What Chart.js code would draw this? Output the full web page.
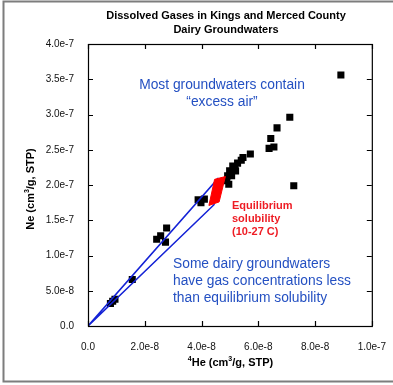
<!DOCTYPE html>
<html>
<head>
<meta charset="utf-8">
<title>Dissolved Gases in Kings and Merced County Dairy Groundwaters</title>
<script src="https://cdn.jsdelivr.net/npm/chart.js@4.4.1/dist/chart.umd.min.js"></script>
<style>
  html, body { margin: 0; padding: 0; background: #fff; }
  canvas { display: block; }
</style>
</head>
<body>
<canvas id="gasChart" width="393" height="385"></canvas>
<script>
// Dairy well samples, 4He and Ne in cm3/g STP
const sampleHe = [8.91e-8, 7.11e-8, 6.66e-8, 6.44e-8, 6.55e-8, 6.38e-8, 5.72e-8, 7.25e-8, 5.40e-8,
                  5.46e-8, 5.27e-8, 5.17e-8, 5.10e-8, 5.20e-8, 4.99e-8, 5.06e-8, 4.92e-8, 4.89e-8, 4.96e-8,
                  3.88e-8, 4.10e-8, 3.98e-8, 2.77e-8, 2.56e-8, 2.42e-8, 2.73e-8, 1.56e-8, 0.79e-8, 0.87e-8, 0.95e-8];
const sampleNe = [3.56e-7, 2.96e-7, 2.81e-7, 2.66e-7, 2.54e-7, 2.52e-7, 2.44e-7, 1.99e-7, 2.35e-7,
                  2.39e-7, 2.31e-7, 2.25e-7, 2.27e-7, 2.20e-7, 2.20e-7, 2.13e-7, 2.13e-7, 2.06e-7, 2.01e-7,
                  1.79e-7, 1.80e-7, 1.75e-7, 1.39e-7, 1.28e-7, 1.23e-7, 1.19e-7, 0.66e-7, 0.32e-7, 0.35e-7, 0.38e-7];

// Equilibrium solubility band (10-27 C)
const equilHe = [4.46e-8, 4.84e-8, 4.62e-8, 4.26e-8, 4.46e-8];
const equilNe = [2.08e-7, 2.12e-7, 1.76e-7, 1.71e-7, 2.08e-7];

// Lines from the origin out to both ends of the equilibrium band
const envelopeHe = [0, 4.55e-8, 4.44e-8, 0];
const envelopeNe = [0, 2.08e-7, 1.72e-7, 0];

// Axis ticks
const heTickValues = [0, 2.0e-8, 4.0e-8, 6.0e-8, 8.0e-8, 1.0e-7];
const neTickValues = [0, 5.0e-8, 1.0e-7, 1.5e-7, 2.0e-7, 2.5e-7, 3.0e-7, 3.5e-7, 4.0e-7];

const titleLines = ['Dissolved Gases in Kings and Merced County', 'Dairy Groundwaters'];
const noteExcess = ['Most groundwaters contain', '\u201Cexcess air\u201D'];
const noteEquil = ['Equilibrium', 'solubility', '(10-27 C)'];
const noteLess = ['Some dairy groundwaters', 'have gas concentrations less', 'than equilibrium solubility'];

const FONT = "'Liberation Sans', Arial, sans-serif";
const TEXT_BLUE = '#2450c2';
const TEXT_RED = '#ee1c24';

function toPoints(xs, ys) {
    return xs.map((x, i) => ({ x: x, y: ys[i] }));
}

function formatTick(v) {
    return v === 0 ? '0.0' : v.toExponential(1);
}

// text with superscripts, centred on (cx, cy)
function drawRichText(ctx, parts, cx, cy) {
    let total = 0;
    parts.forEach(p => {
        ctx.font = p.sup ? 'bold 7px ' + FONT : 'bold 11px ' + FONT;
        p.w = ctx.measureText(p.text).width;
        total += p.w;
    });
    let x = cx - total / 2;
    ctx.textAlign = 'left';
    ctx.textBaseline = 'middle';
    parts.forEach(p => {
        ctx.font = p.sup ? 'bold 7px ' + FONT : 'bold 11px ' + FONT;
        ctx.fillText(p.text, x, p.sup ? cy - 4 : cy);
        x += p.w;
    });
}

const decorations = {
    id: 'decorations',
    beforeDraw(chart) {
        const ctx = chart.ctx;
        ctx.save();
        ctx.fillStyle = '#fff';
        ctx.fillRect(0, 0, chart.width, chart.height);
        // grey frame round the figure
        ctx.strokeStyle = '#7d7d7d';
        ctx.lineWidth = 2;
        ctx.beginPath();
        ctx.moveTo(400, 1.5);
        ctx.lineTo(3.5, 1.5);
        ctx.lineTo(3.5, 381.5);
        ctx.lineTo(400, 381.5);
        ctx.stroke();
        ctx.restore();
    },
    afterDraw(chart) {
        const ctx = chart.ctx;
        const a = chart.chartArea;
        const xs = chart.scales.x;
        const ys = chart.scales.y;
        ctx.save();

        // plot box with inward ticks on all sides
        ctx.strokeStyle = '#000';
        ctx.lineWidth = 1.2;
        ctx.strokeRect(a.left + 0.5, a.top + 0.5, a.right - a.left, a.bottom - a.top);
        ctx.beginPath();
        heTickValues.forEach(v => {
            const px = Math.round(xs.getPixelForValue(v)) + 0.5;
            ctx.moveTo(px, a.bottom);
            ctx.lineTo(px, a.bottom - 5);
            ctx.moveTo(px, a.top);
            ctx.lineTo(px, a.top + 5);
        });
        neTickValues.forEach(v => {
            const py = Math.round(ys.getPixelForValue(v)) + 0.5;
            ctx.moveTo(a.left, py);
            ctx.lineTo(a.left + 5, py);
            ctx.moveTo(a.right, py);
            ctx.lineTo(a.right - 5, py);
        });
        ctx.stroke();

        // title
        ctx.fillStyle = '#000';
        ctx.font = 'bold 11px ' + FONT;
        ctx.textAlign = 'center';
        ctx.textBaseline = 'middle';
        ctx.fillText(titleLines[0], 226, 16);
        ctx.fillText(titleLines[1], 226, 30);

        // axis titles
        drawRichText(ctx, [
            { text: '4', sup: true }, { text: 'He (cm' }, { text: '3', sup: true }, { text: '/g, STP)' }
        ], 230.5, 363);
        ctx.save();
        ctx.translate(31, 189);
        ctx.rotate(-Math.PI / 2);
        drawRichText(ctx, [
            { text: 'Ne (cm' }, { text: '3', sup: true }, { text: '/g, STP)' }
        ], 0, 0);
        ctx.restore();

        // notes
        ctx.font = '13.8px ' + FONT;
        ctx.fillStyle = TEXT_BLUE;
        ctx.textAlign = 'center';
        ctx.fillText(noteExcess[0], 222, 85);
        ctx.fillText(noteExcess[1], 222, 101.7);
        ctx.textAlign = 'left';
        noteLess.forEach((t, i) => ctx.fillText(t, 173, 264.5 + i * 17));

        ctx.font = 'bold 11px ' + FONT;
        ctx.fillStyle = TEXT_RED;
        noteEquil.forEach((t, i) => ctx.fillText(t, 232, 206 + i * 13.2));

        ctx.restore();
    }
};

const ctx = document.getElementById('gasChart').getContext('2d');
const chart = new Chart(ctx, {
    type: 'scatter',
    data: {
        datasets: [
            {
                label: 'Equilibrium solubility',
                data: toPoints(equilHe, equilNe),
                showLine: true,
                borderColor: '#ff0000',
                backgroundColor: '#ff0000',
                borderWidth: 1,
                pointRadius: 0,
                fill: 'shape'
            },
            {
                label: 'Envelope',
                data: toPoints(envelopeHe, envelopeNe),
                showLine: true,
                borderColor: '#1422d6',
                borderWidth: 1.6,
                pointRadius: 0,
                fill: false
            },
            {
                label: 'Samples',
                data: toPoints(sampleHe, sampleNe),
                pointStyle: 'rect',
                pointRadius: 5,
                backgroundColor: '#000',
                borderColor: '#000',
                borderWidth: 0
            }
        ]
    },
    options: {
        responsive: false,
        animation: false,
        devicePixelRatio: 1,
        layout: {
            padding: { left: 0, top: 44, right: 21, bottom: 0 }
        },
        plugins: {
            legend: { display: false },
            tooltip: { enabled: false }
        },
        scales: {
            x: {
                type: 'linear',
                min: 0,
                max: 1.0e-7,
                grid: { display: false },
                border: { display: false },
                afterBuildTicks: scale => { scale.ticks = heTickValues.map(v => ({ value: v })); },
                afterFit: scale => { scale.height = 59; },
                ticks: {
                    padding: 7,
                    maxRotation: 0,
                    color: '#111',
                    font: { family: FONT, size: 10 },
                    callback: formatTick
                }
            },
            y: {
                type: 'linear',
                min: 0,
                max: 4.0e-7,
                grid: { display: false },
                border: { display: false },
                afterBuildTicks: scale => { scale.ticks = neTickValues.map(v => ({ value: v })); },
                afterFit: scale => { scale.width = 88; },
                ticks: {
                    padding: 6,
                    color: '#111',
                    font: { family: FONT, size: 10 },
                    callback: formatTick
                }
            }
        }
    },
    plugins: [decorations]
});
</script>
</body>
</html>
